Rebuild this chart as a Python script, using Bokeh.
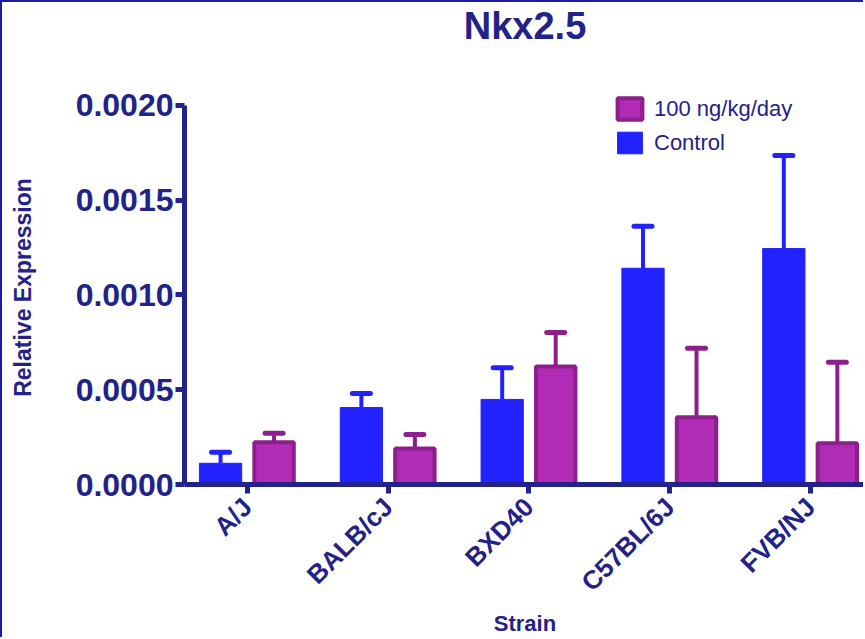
import math
import numpy as np
from bokeh.plotting import figure
from bokeh.models import (Range1d, FixedTicker, ColumnDataSource, Whisker, TeeHead,
                          Legend, LegendItem, PrintfTickFormatter, Title)
from bokeh.embed import file_html
from bokeh.resources import INLINE

# ---- data ----
strains = ["A/J", "BALB/cJ", "BXD40", "C57BL/6J", "FVB/NJ"]
control_mean = [0.000112, 0.000406, 0.000449, 0.001141, 0.001245]
control_err = [0.000058, 0.000074, 0.000167, 0.000222, 0.000491]
treated_mean = [0.000223, 0.000190, 0.000623, 0.000355, 0.000218]
treated_err = [0.000048, 0.000074, 0.000179, 0.000364, 0.000427]
y_ticks = [0.0, 0.0005, 0.0010, 0.0015, 0.0020]
series_labels = ["100 ng/kg/day", "Control"]
title_text = "Nkx2.5"
x_title = "Strain"
y_title = "Relative Expression"

NAVY = "#222288"
BLUE = "#2222FF"
PURPLE = "#8C1F8C"
HATCH = "#B52DBA"
FONT = "Liberation Sans"

idx = np.arange(len(strains))
offset = 0.19
ctrl = ColumnDataSource(dict(x=idx - offset, top=control_mean,
                             upper=np.array(control_mean) + np.array(control_err)))
trt = ColumnDataSource(dict(x=idx + offset, top=treated_mean,
                            upper=np.array(treated_mean) + np.array(treated_err)))

p = figure(width=863, height=637, x_range=Range1d(-0.446, 4.39),
           y_range=Range1d(0, 0.002079), output_backend="svg", toolbar_location=None,
           min_border_left=182, min_border_right=0, min_border_top=88,
           min_border_bottom=155)
p.title = None
p.styles = {"border-left": "2px solid #1C1CA8", "border-top": "2px solid #1C1CA8"}
p.outline_line_color = None
p.grid.visible = False

# title: a blank spacer next to the frame, then the real title above it
p.add_layout(Title(text=" ", text_font=FONT, text_font_size="38px", standoff=0), "above")
p.add_layout(Title(text=title_text, align="center", offset=4, text_font=FONT,
                   text_font_size="38px", text_font_style="bold", text_color=NAVY,
                   standoff=0), "above")

# bars
rc = p.vbar(x="x", top="top", width=0.30, source=ctrl, fill_color=BLUE, line_color=BLUE,
            line_width=1)
rt = p.vbar(x="x", top="top", width=0.28, source=trt, fill_color=PURPLE, line_color=PURPLE,
            line_width=4, hatch_pattern="criss_cross", hatch_color=HATCH, hatch_scale=4,
            hatch_weight=1.5)

for src, col in ((ctrl, BLUE), (trt, PURPLE)):
    w = Whisker(base="x", lower="top", upper="upper", source=src, line_color=col,
                line_width=4, lower_head=None,
                upper_head=TeeHead(size=18, line_color=col, line_width=5, line_cap="round"))
    p.add_layout(w)

# axes
xa = p.xaxis[0]
xa.ticker = FixedTicker(ticks=[int(i) for i in idx])
xa.major_label_overrides = {int(i): s for i, s in enumerate(strains)}
xa.major_label_orientation = math.pi / 4
xa.minor_tick_line_color = None
xa.axis_label = x_title

ya = p.yaxis[0]
ya.ticker = FixedTicker(ticks=y_ticks)
ya.formatter = PrintfTickFormatter(format="%.4f")
ya.bounds = (0, 0.002)
ya.minor_tick_line_color = None
ya.axis_label = y_title

for ax in (xa, ya):
    ax.axis_line_color = NAVY
    ax.axis_line_width = 5
    ax.major_tick_line_color = NAVY
    ax.major_tick_line_width = 5
    ax.major_tick_in = 0
    ax.major_tick_out = 9
    ax.major_label_text_color = NAVY
    ax.major_label_text_font = FONT
    ax.major_label_text_font_style = "bold"
    ax.axis_label_text_color = NAVY
    ax.axis_label_text_font = FONT
    ax.axis_label_text_font_style = "bold"

xa.major_label_text_font_size = "26px"
xa.axis_label_text_font_size = "22px"
xa.major_label_standoff = 9
xa.axis_label_standoff = 0
ya.major_label_text_font_size = "32px"
ya.axis_label_text_font_size = "23px"
ya.major_label_standoff = 2
ya.axis_label_standoff = 37

legend = Legend(items=[LegendItem(label=series_labels[0], renderers=[rt]),
                       LegendItem(label=series_labels[1], renderers=[rc])],
                location=(430, 328), padding=0, margin=0, spacing=7,
                glyph_width=31, glyph_height=27, label_standoff=9,
                label_text_font=FONT, label_text_font_size="22px",
                label_text_color=NAVY, border_line_color=None,
                background_fill_alpha=0)
p.add_layout(legend)

open("out.html", "w").write(file_html(p, INLINE))
